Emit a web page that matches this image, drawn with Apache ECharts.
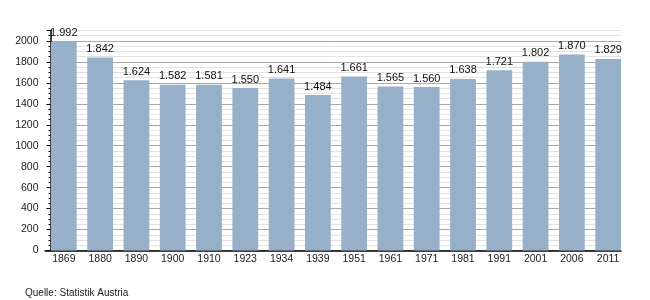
<!DOCTYPE html>
<html><head><meta charset="utf-8">
<script src="https://cdn.jsdelivr.net/npm/echarts@6/dist/echarts.min.js"></script>
<style>html,body{margin:0;padding:0;background:#fff}#c{width:650px;height:300px}</style>
</head><body><div id="c"></div>
<script>
const categories = ['1869','1880','1890','1900','1910','1923','1934','1939','1951','1961','1971','1981','1991','2001','2006','2011'];
const values = [1992,1842,1624,1582,1581,1550,1641,1484,1661,1565,1560,1638,1721,1802,1870,1829];
const yTicks = [0,200,400,600,800,1000,1200,1400,1600,1800,2000];
const source = 'Quelle: Statistik Austria';

const font = 'Liberation Sans, Arial, sans-serif';
const TOP = 30.5, BOTTOM = 49.5;
const chart = echarts.init(document.getElementById('c'), null, {renderer:'canvas'});
chart.setOption({
  animation:false,
  grid:[
    {left:45.7, right:23.7, top:TOP, bottom:BOTTOM},   // bars
    {left:50.5, right:29, top:TOP, bottom:BOTTOM},     // y axis + grid lines
    {left:45, right:29, top:TOP, bottom:BOTTOM}        // x axis line
  ],
  title:{text:source, left:20, top:283, textStyle:{fontFamily:font, fontSize:10, fontWeight:'normal', color:'#222'}},
  xAxis:[
    {type:'category', gridIndex:0, data:categories,
     axisLine:{show:false}, axisTick:{show:false},
     axisLabel:{color:'#222', fontFamily:font, fontSize:10.5, margin:3}},
    {type:'value', gridIndex:1, min:0, max:1, show:true,
     axisLine:{show:false}, axisTick:{show:false}, axisLabel:{show:false}, splitLine:{show:false}},
    {type:'value', gridIndex:2, min:0, max:1,
     axisLine:{show:true, lineStyle:{color:'#000', width:1.5}}, axisTick:{show:false}, axisLabel:{show:false}, splitLine:{show:false}}
  ],
  yAxis:[
    {type:'value', gridIndex:0, min:0, max:2100, show:false, splitLine:{show:false}},
    {type:'value', gridIndex:1, min:0, max:2100, interval:50,
     axisLine:{show:true, lineStyle:{color:'#000', width:1.5}},
     axisTick:{show:true, length:2, lineStyle:{color:'#000'}},
     axisLabel:{color:'#222', fontFamily:font, fontSize:10.5, margin:12,
       formatter:v=> yTicks.includes(v) ? String(v) : ''},
     splitLine:{show:true, lineStyle:{color:['#a8a8a8','#e2e2e2','#e2e2e2','#e2e2e2'], width:1}}},
    {type:'value', gridIndex:1, min:0, max:2100, interval:200, position:'left',
     axisLine:{show:false}, axisLabel:{show:false}, splitLine:{show:false},
     axisTick:{show:true, length:4, lineStyle:{color:'#000'}}},
    {type:'value', gridIndex:2, min:0, max:2100, show:false, splitLine:{show:false}}
  ],
  series:[{type:'bar', xAxisIndex:0, yAxisIndex:0, data:values, barWidth:'71%', z:3,
    itemStyle:{color:'#97b0ca'},
    label:{show:true, position:'top', distance:3, color:'#111', fontFamily:font, fontSize:11,
      formatter:p=>{const s=String(p.value);return s.length>3? s.slice(0,s.length-3)+'.'+s.slice(-3):s;}}}]
});
</script></body></html>
